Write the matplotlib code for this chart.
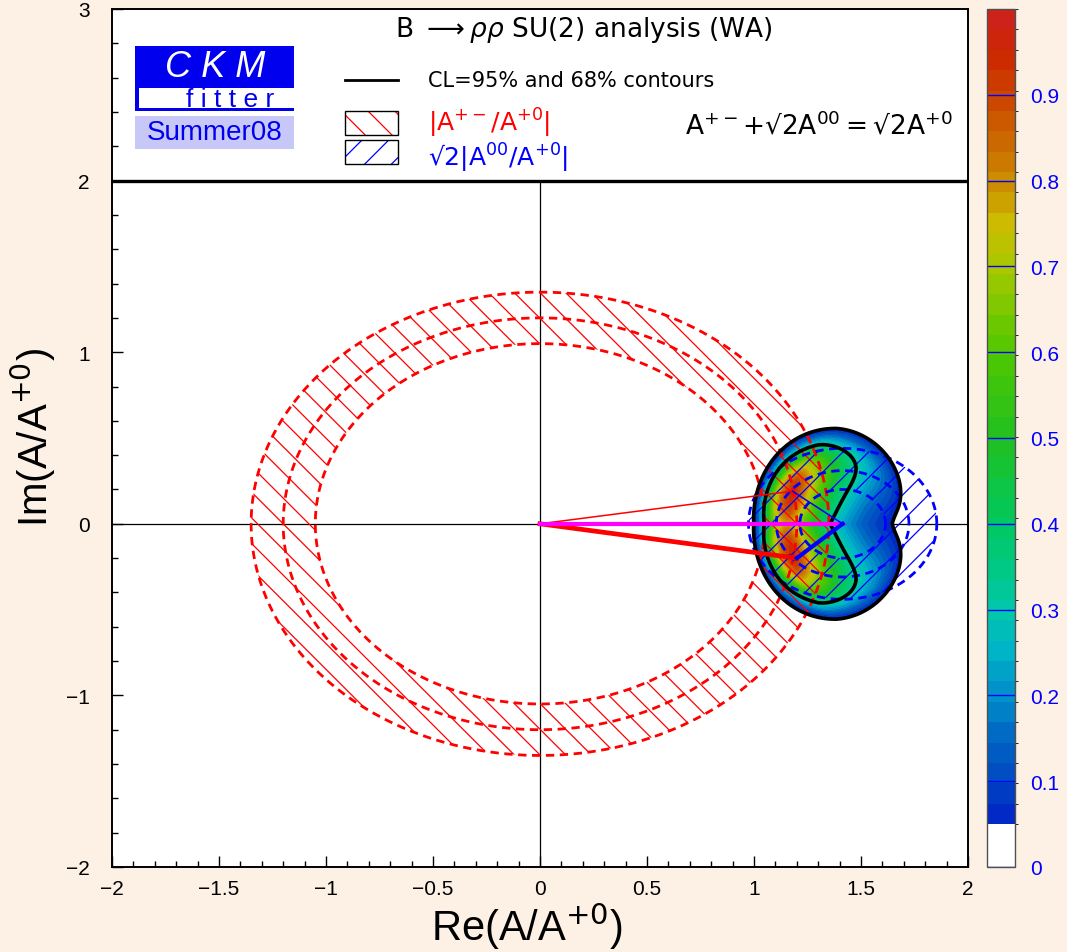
import numpy as np
import matplotlib
matplotlib.use('Agg')
import matplotlib.pyplot as plt
from matplotlib.colors import LinearSegmentedColormap, ListedColormap, BoundaryNorm
from matplotlib.collections import LineCollection
from matplotlib.patches import PathPatch, Rectangle
from matplotlib.path import Path
import matplotlib.cm as cm

plt.rcParams['font.family'] = ['Liberation Sans', 'DejaVu Sans']
plt.rcParams['mathtext.fontset'] = 'dejavusans'

# SU(2) triangle A+- + sqrt2 A00 = sqrt2 A+0, normalised to A+0 (A+0 on the real axis)
sqrt2 = np.sqrt(2)
ratio_pm = [1.05, 1.20, 1.35]   # |A+-/A+0| : low, central, high
ratio_00 = [0.20, 0.31, 0.44]   # sqrt2 |A00/A+0| : low, central, high
apex_upper = (1.18, 0.19)       # mirror solution (thin lines)
apex_lower = (1.20, -0.20)      # preferred solution (thick lines)

# CL map: envelope, crescent around a point on the right, two peaks
env_center = (1.378, 0.0)
env_axes = (0.383, 0.589)
cres_center = (1.71, 0.0)
cres_radius = 0.551
cres_width = 0.116
peak_y = 0.198
cl_contours = [0.05, 0.32]

xticks = [-2, -1.5, -1, -0.5, 0, 0.5, 1, 1.5, 2]
xtick_labels = ['\u22122', '\u22121.5', '\u22121', '\u22120.5', '0', '0.5', '1', '1.5', '2']
yticks = [-2, -1, 0, 1, 2, 3]
ytick_labels = ['\u22122', '\u22121', '0', '1', '2', '3']
cbar_ticks = [0, 0.1, 0.2, 0.3, 0.4, 0.5, 0.6, 0.7, 0.8, 0.9]
cbar_labels = ['0', '0.1', '0.2', '0.3', '0.4', '0.5', '0.6', '0.7', '0.8', '0.9']

palette_pos = [0.05, 0.10, 0.15, 0.20, 0.25, 0.30, 0.40, 0.50, 0.60, 0.70, 0.75, 0.80, 0.85, 0.90, 0.95, 1.00]
palette_col = ['#0020c8', '#0048c0', '#0068c4', '#0090c8', '#00b4c8', '#00c8a8', '#00c860', '#20c020',
               '#50c800', '#a8c800', '#ccbb00', '#cc8c00', '#cc6600', '#cc4400', '#cc2800', '#cc2020']

bg = '#fdf1e5'
W, H = 1067, 953
fig = plt.figure(figsize=(W / 100, H / 100), dpi=100, facecolor=bg)
ax_box = [112 / W, 1 - 868 / H, 856 / W, 858 / H]
ax = fig.add_axes(ax_box)
ax.set_xlim(-2, 2)
ax.set_ylim(-2, 3)
px_x = ax_box[2] * W / 4.0   # pixels per unit
px_y = ax_box[3] * H / 5.0
k = px_y / px_x

# CL field
gx = np.linspace(0.85, 1.85, 500)
gy = np.linspace(-0.75, 0.75, 500)
X, Y = np.meshgrid(gx, gy)
s = np.sqrt(((X - env_center[0]) / env_axes[0]) ** 2 + ((Y - env_center[1]) / env_axes[1]) ** 2)
d = np.hypot(X - cres_center[0], (Y - cres_center[1]) * k)
chi_env = 5.99 * s ** 8
chi_cres = (np.clip(cres_radius - d, 0, None) / cres_width) ** 1.15
ay = np.abs(Y)
chi_y = np.where(ay > peak_y, ((ay - peak_y) / 0.239) ** 2, ((peak_y - ay) / 0.297) ** 2)
CL = np.exp(-(chi_env + chi_cres + chi_y) / 2)

pos01 = [(p - 0.05) / 0.95 for p in palette_pos]
cmap = LinearSegmentedColormap.from_list('ckm', list(zip(pos01, palette_col)))
levels = np.linspace(0.05, 1.0, 41)
band_cols = [cmap(((a + b) / 2 - 0.05) / 0.95) for a, b in zip(levels[:-1], levels[1:])]

# axis cross
ax.axhline(0, color='black', lw=0.9, zorder=1)
ax.plot([0, 0], [-2, 2], color='black', lw=0.9, zorder=1)
ax.axhline(2, color='black', lw=2.4, zorder=6)

ax.contourf(X, Y, CL, levels=levels, colors=band_cols, zorder=2)


def ring_path(cx, r_in, r_out):
    t = np.linspace(0, 2 * np.pi, 300)
    outer = np.c_[cx + r_out * np.cos(t), r_out * np.sin(t)]
    inner = np.c_[cx + r_in * np.cos(t[::-1]), r_in * np.sin(t[::-1])]
    codes = [Path.MOVETO] + [Path.LINETO] * (len(t) - 1)
    return Path(np.vstack([outer, inner]), codes + codes)


def hatch(path, color, sign, step, lw=0.9, z=3):
    patch = PathPatch(path, facecolor='none', edgecolor='none', transform=ax.transData)
    ax.add_patch(patch)
    slope = sign * px_x / px_y
    segs = [[(-3, slope * (-3 - c)), (3, slope * (3 - c))] for c in np.arange(-6, 6, step)]
    lc = LineCollection(segs, colors=color, linewidths=lw, zorder=z)
    ax.add_collection(lc)
    lc.set_clip_path(patch)


t = np.linspace(0, 2 * np.pi, 400)
hatch(ring_path(0, ratio_pm[0], ratio_pm[2]), 'red', -1, 0.12)
hatch(ring_path(sqrt2, ratio_00[0], ratio_00[2]), 'blue', 1, 0.12)
for r in ratio_pm:
    ax.plot(r * np.cos(t), r * np.sin(t), color='red', lw=2.0, ls=(0, (3, 2)), zorder=3)
for r in ratio_00:
    ax.plot(sqrt2 + r * np.cos(t), r * np.sin(t), color='blue', lw=2.0, ls=(0, (3, 2)), zorder=3)

ax.contour(X, Y, CL, levels=cl_contours, colors='black', linewidths=2.6, zorder=4)

# triangles
ax.plot([0, apex_upper[0]], [0, apex_upper[1]], color='red', lw=1.1, zorder=5)
ax.plot([0, apex_lower[0]], [0, apex_lower[1]], color='red', lw=3.4, zorder=5)
ax.plot([0, sqrt2], [0, 0], color='#ff00ff', lw=3.0, zorder=5)
ax.plot([sqrt2, apex_upper[0]], [0, apex_upper[1]], color='blue', lw=1.1, zorder=5)
ax.plot([sqrt2, apex_lower[0]], [0, apex_lower[1]], color='blue', lw=3.0, zorder=5)

# header box
ax.text(0.203, 2.882, r'B $\longrightarrow\rho\rho$ SU(2) analysis (WA)', fontsize=19,
        family='DejaVu Sans', ha='center', va='center')
ax.add_patch(Rectangle((-1.893, 2.405), 0.743, 0.380, facecolor='#0000ee', edgecolor='none', zorder=6))
ax.add_patch(Rectangle((-1.874, 2.423), 0.724, 0.117, facecolor='white', edgecolor='none', zorder=6))
ax.text(-1.52, 2.665, 'C K M', color='white', fontsize=26, style='italic', ha='center', va='center', zorder=7)
ax.text(-1.45, 2.478, 'f i t t e r', color='#0000ee', fontsize=19, ha='center', va='center', zorder=7)
ax.add_patch(Rectangle((-1.893, 2.183), 0.743, 0.193, facecolor='#c8c8f8', edgecolor='none', zorder=6))
ax.text(-1.52, 2.282, 'Summer08', color='#0000ee', fontsize=20, ha='center', va='center', zorder=7)

ax.plot([-0.911, -0.664], [2.586, 2.586], color='black', lw=2.0)
ax.text(-0.523, 2.586, 'CL=95% and 68% contours', fontsize=15, family='DejaVu Sans', va='center')
for (y0, col, sg) in [(2.265, 'red', -1), (2.096, 'blue', 1)]:
    rect = Path([(-0.911, y0), (-0.664, y0), (-0.664, y0 + 0.14), (-0.911, y0 + 0.14), (-0.911, y0)])
    hatch(rect, col, sg, 0.125, lw=0.9, z=6)
    ax.add_patch(Rectangle((-0.911, y0), 0.247, 0.14, facecolor='none', edgecolor='black', lw=1.0, zorder=7))
ax.text(-0.523, 2.29, r'$|\mathrm{A}^{+-}/\mathrm{A}^{+0}|$', color='red', fontsize=18, va='baseline')
ax.text(-0.523, 2.085, '$\u221a2|\\mathrm{A}^{00}/\\mathrm{A}^{+0}|$', color='blue', fontsize=18, va='baseline')
ax.text(0.678, 2.33, '$\\mathrm{A}^{+-}{+}\u221a2\\mathrm{A}^{00}{=}\u221a2\\mathrm{A}^{+0}$', fontsize=19, va='center')

# axes styling
ax.set_xticks(xticks)
ax.set_xticklabels(xtick_labels)
ax.set_yticks(yticks)
ax.set_yticklabels(ytick_labels)
ax.set_xticks(np.arange(-2, 2.001, 0.1), minor=True)
ax.set_yticks(np.arange(-2, 3.001, 0.2), minor=True)
ax.tick_params(which='major', direction='in', length=8, width=1, labelsize=15, top=False, right=False)
ax.tick_params(which='minor', direction='in', length=4, width=1, top=False, right=False)
ax.tick_params(axis='y', pad=16)
ax.tick_params(axis='x', pad=9)
for sp in ax.spines.values():
    sp.set_linewidth(1.4)
fig.text(527 / W, 1 - 926 / H, r'Re(A/A$^{+0}$)', fontsize=30, ha='center', va='center')
fig.text(33 / W, 1 - 438 / H, r'Im(A/A$^{+0}$)', fontsize=29, ha='center', va='center', rotation=90)

# colour scale
cax = fig.add_axes([987 / W, ax_box[1], 28 / W, ax_box[3]])
bounds = np.concatenate([[0], levels])
sm = cm.ScalarMappable(norm=BoundaryNorm(bounds, len(bounds) - 1),
                       cmap=ListedColormap(['white'] + band_cols))
cb = fig.colorbar(sm, cax=cax, spacing='proportional', ticks=cbar_ticks)
cb.ax.set_yticklabels(cbar_labels)
cb.outline.set_edgecolor('#505050')
cb.outline.set_linewidth(1.0)
cax.tick_params(length=0, labelcolor='blue', labelsize=15, pad=11)
for v in cbar_ticks:
    cax.axhline(v, color='blue', lw=1.0)

fig.savefig('out.png', dpi=100, facecolor=bg)
